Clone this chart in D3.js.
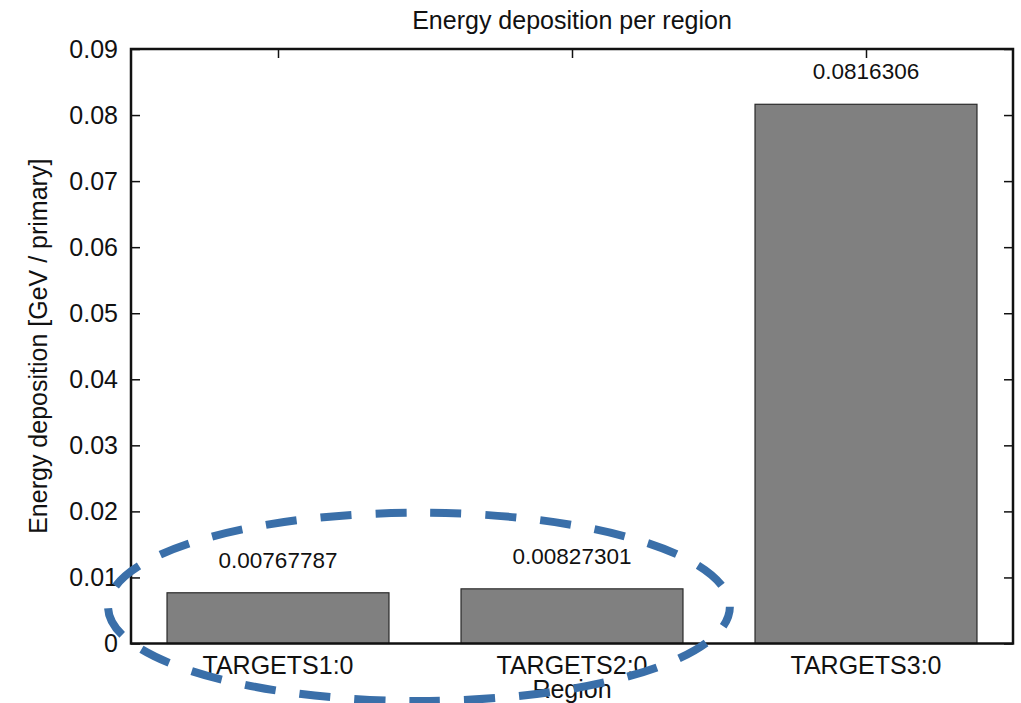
<!DOCTYPE html>
<html>
<head>
<meta charset="utf-8">
<script src="https://cdn.jsdelivr.net/npm/d3@7"></script>
<style>
  html, body { margin: 0; padding: 0; background: #fff; }
  svg text { font-family: "Liberation Sans", Arial, Helvetica, sans-serif; fill: #111; }
</style>
</head>
<body>
<svg id="chart"></svg>
<script>
// Chart data
const regions = ["TARGETS1:0", "TARGETS2:0", "TARGETS3:0"];
const deposits = [0.00767787, 0.00827301, 0.0816306];
const valueLabels = ["0.00767787", "0.00827301", "0.0816306"];
const yTicks = [0, 0.01, 0.02, 0.03, 0.04, 0.05, 0.06, 0.07, 0.08, 0.09];
const yTickLabels = ["0", "0.01", "0.02", "0.03", "0.04", "0.05", "0.06", "0.07", "0.08", "0.09"];

// highlight ellipse, in data units (x: category index, y: GeV)
const highlightX = [-0.578, 1.537];
const highlightY = [-0.0087, 0.0198];

const width = 1021, height = 703;
const margin = { top: 49, right: 8, bottom: 60, left: 131 };

const svg = d3.select("#chart")
    .attr("width", width)
    .attr("height", height)
    .attr("viewBox", `0 0 ${width} ${height}`);

const x = d3.scaleLinear()
    .domain([-0.5, regions.length - 0.5])
    .range([margin.left, width - margin.right]);

const y = d3.scaleLinear()
    .domain([0, 0.09])
    .range([height - margin.bottom + 0.5, margin.top]);

const barWidth = (x(1) - x(0)) * 0.755;

// bars
svg.selectAll(".bar")
    .data(deposits)
    .enter().append("rect")
    .attr("class", "bar")
    .attr("x", (d, i) => x(i) - barWidth / 2)
    .attr("y", d => y(d))
    .attr("width", barWidth)
    .attr("height", d => y(0) - y(d))
    .attr("fill", "#808080")
    .attr("stroke", "#2a2a2a")
    .attr("stroke-width", 1.2);

// value labels
svg.selectAll(".val")
    .data(deposits)
    .enter().append("text")
    .attr("class", "val")
    .attr("x", (d, i) => x(i))
    .attr("y", d => y(d) - 25)
    .attr("text-anchor", "middle")
    .attr("font-size", "22.5px")
    .text((d, i) => valueLabels[i]);

// axes: ticks pointing inward, mirrored on all sides
const tickLen = 9;
const leftAxis = svg.append("g")
    .attr("transform", `translate(${margin.left},0)`)
    .call(d3.axisRight(y).tickValues(yTicks).tickSize(tickLen).tickFormat(""));
const rightAxis = svg.append("g")
    .attr("transform", `translate(${width - margin.right},0)`)
    .call(d3.axisLeft(y).tickValues(yTicks).tickSize(tickLen).tickFormat(""));
const topAxis = svg.append("g")
    .attr("transform", `translate(0,${margin.top})`)
    .call(d3.axisBottom(x).tickValues(d3.range(regions.length)).tickSize(tickLen).tickFormat(""));
[leftAxis, rightAxis, topAxis].forEach(g => {
    g.select(".domain").remove();
    g.selectAll(".tick line").attr("stroke", "#111").attr("stroke-width", 1.5);
});

// y tick labels
svg.selectAll(".ylab")
    .data(yTicks)
    .enter().append("text")
    .attr("class", "ylab")
    .attr("x", margin.left - 13)
    .attr("y", d => y(d))
    .attr("dy", "0.35em")
    .attr("text-anchor", "end")
    .attr("font-size", "25px")
    .text((d, i) => yTickLabels[i]);

// category labels
svg.selectAll(".xlab")
    .data(regions)
    .enter().append("text")
    .attr("class", "xlab")
    .attr("x", (d, i) => x(i))
    .attr("y", y(0) + 30)
    .attr("text-anchor", "middle")
    .attr("font-size", "25px")
    .text(d => d);

// frame
svg.append("rect")
    .attr("x", x.range()[0])
    .attr("y", y.range()[1])
    .attr("width", x.range()[1] - x.range()[0])
    .attr("height", y.range()[0] - y.range()[1])
    .attr("fill", "none")
    .attr("stroke", "#111")
    .attr("stroke-width", 2.5);

// titles
svg.append("text")
    .attr("x", (x.range()[0] + x.range()[1]) / 2)
    .attr("y", 29)
    .attr("text-anchor", "middle")
    .attr("font-size", "25px")
    .text("Energy deposition per region");

svg.append("text")
    .attr("x", (x.range()[0] + x.range()[1]) / 2)
    .attr("y", 698)
    .attr("text-anchor", "middle")
    .attr("font-size", "25px")
    .text("Region");

svg.append("text")
    .attr("transform", `translate(47,${(y.range()[0] + y.range()[1]) / 2}) rotate(-90)`)
    .attr("text-anchor", "middle")
    .attr("font-size", "25px")
    .text("Energy deposition [GeV / primary]");

// dashed highlight ellipse round the two small bars
svg.append("ellipse")
    .attr("cx", (x(highlightX[0]) + x(highlightX[1])) / 2)
    .attr("cy", (y(highlightY[0]) + y(highlightY[1])) / 2)
    .attr("rx", (x(highlightX[1]) - x(highlightX[0])) / 2)
    .attr("ry", (y(highlightY[0]) - y(highlightY[1])) / 2)
    .attr("fill", "none")
    .attr("stroke", "#3a6fa9")
    .attr("stroke-width", 8)
    .attr("stroke-dasharray", "31 24")
    .attr("stroke-dashoffset", 10);
</script>
</body>
</html>
